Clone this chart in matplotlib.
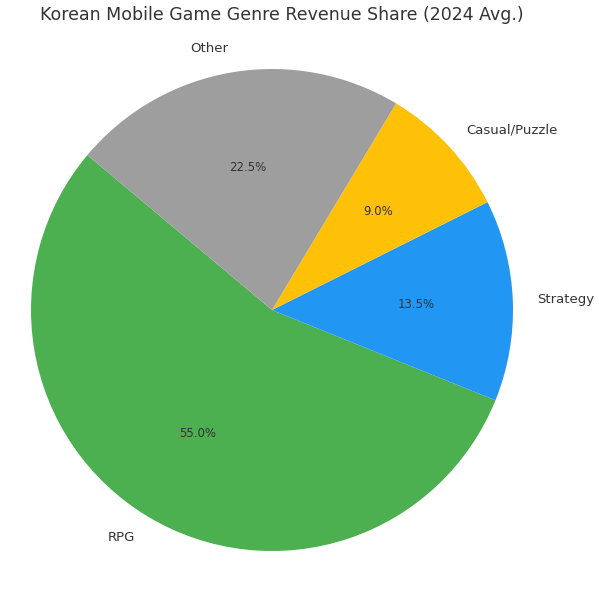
import matplotlib
matplotlib.use("Agg")
import matplotlib.pyplot as plt

# data
genres = ["RPG", "Strategy", "Casual/Puzzle", "Other"]
shares = [55.0, 13.5, 9.0, 22.5]
colors = ["#4CAF50", "#2196F3", "#FFC107", "#9E9E9E"]

title = "Korean Mobile Game Genre Revenue Share (2024 Avg.)"
text_color = "#333333"

fig = plt.figure(figsize=(5.99, 6.0), dpi=100)
# pie centre ~ (272, 310) px, radius ~241 px
ax = fig.add_axes([(272 - 241) / 599, (600 - 310 - 241) / 600, 482 / 599, 482 / 600])

wedges, texts, autotexts = ax.pie(
    shares,
    labels=genres,
    colors=colors,
    autopct="%1.1f%%",
    startangle=140,
    textprops={"color": text_color},
)
for t in texts:
    t.set_fontsize(9.5)
for t in autotexts:
    t.set_fontsize(8.5)

ax.set_xlim(-1, 1)
ax.set_ylim(-1, 1)
ax.set_aspect("equal")

fig.text(40 / 599, 1 - 15 / 600, title, fontsize=12.5, color=text_color,
         ha="left", va="center")

fig.savefig("out.png", dpi=100)
